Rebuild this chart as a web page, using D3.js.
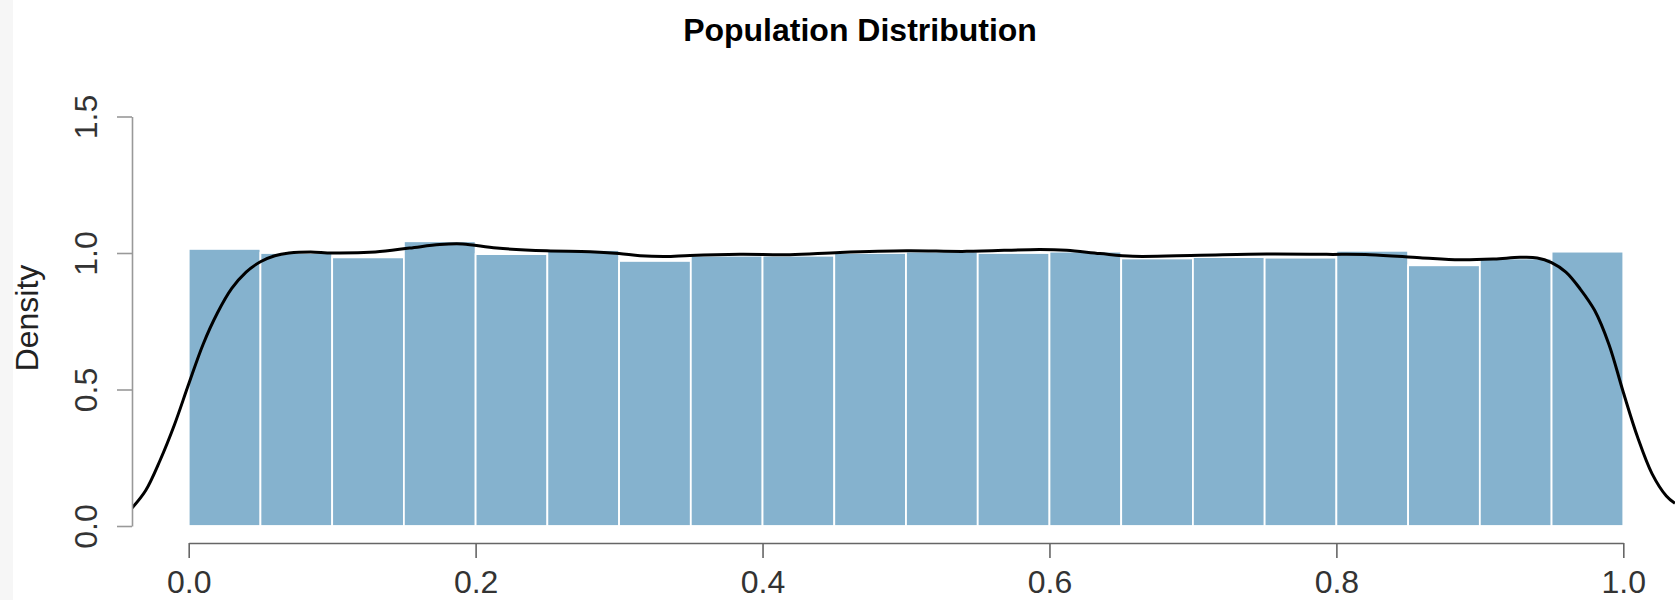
<!DOCTYPE html>
<html>
<head>
<meta charset="utf-8">
<script src="https://cdn.jsdelivr.net/npm/d3@7"></script>
<style>
  html, body { margin: 0; padding: 0; background: #ffffff; }
  svg { display: block; font-family: "Liberation Sans", Arial, sans-serif; }
</style>
</head>
<body>
<svg id="chart" width="1675" height="600"></svg>
<script>
// ---- Data ----
const binStarts = [0.00, 0.05, 0.10, 0.15, 0.20, 0.25, 0.30, 0.35, 0.40, 0.45,
                   0.50, 0.55, 0.60, 0.65, 0.70, 0.75, 0.80, 0.85, 0.90, 0.95];
const binWidth = 0.05;
const binDensity = [1.015, 1.000, 0.984, 1.043, 0.996, 1.011, 0.971, 0.990, 0.990, 1.000,
                    1.005, 1.000, 1.005, 0.980, 0.985, 0.983, 1.008, 0.955, 0.980, 1.005];

const curveX = [-0.0395, -0.030, -0.020, -0.010, 0.000, 0.010, 0.020, 0.030, 0.040, 0.050,
                0.060, 0.070, 0.085, 0.1000, 0.1300, 0.154, 0.175, 0.191, 0.2147, 0.2495,
                0.2797, 0.3000, 0.3146, 0.332, 0.3494, 0.3843, 0.4191, 0.454, 0.5005, 0.5423,
                0.5934, 0.612, 0.6352, 0.6582, 0.705, 0.7514, 0.7932, 0.8234, 0.8583, 0.8861,
                0.910, 0.928, 0.940, 0.950, 0.960, 0.970, 0.980, 0.990, 1.000, 1.010,
                1.020, 1.030, 1.036];
const curveY = [0.066, 0.130, 0.240, 0.370, 0.520, 0.665, 0.780, 0.870, 0.930, 0.968,
                0.990, 1.000, 1.004, 1.000, 1.004, 1.018, 1.031, 1.033, 1.018, 1.008,
                1.005, 0.998, 0.990, 0.987, 0.991, 0.995, 0.994, 1.002, 1.008, 1.006,
                1.013, 1.010, 0.998, 0.988, 0.992, 0.996, 0.995, 0.994, 0.983, 0.975,
                0.978, 0.984, 0.982, 0.965, 0.930, 0.868, 0.790, 0.665, 0.490, 0.325,
                0.192, 0.110, 0.083];

const xTicks = [0.0, 0.2, 0.4, 0.6, 0.8, 1.0];
const yTicks = [0.0, 0.5, 1.0, 1.5];
const titleText = "Population Distribution";
const yLabelText = "Density";

// ---- Layout ----
const svg = d3.select("#chart");
const x = d3.scaleLinear().domain([0, 1]).range([188.7, 1623.3]);
const y = d3.scaleLinear().domain([0, 1.5]).range([526, 116.5]);
const plotLeft = 132;

// left light stripe
svg.append("rect").attr("x", 0).attr("y", 0).attr("width", 13).attr("height", 600)
   .attr("fill", "#f6f6f6");

// clip
svg.append("clipPath").attr("id", "plotclip")
   .append("rect").attr("x", plotLeft).attr("y", 60).attr("width", 1675 - plotLeft).attr("height", 480);

// bars
svg.append("g").selectAll("rect")
  .data(binStarts.map((s, i) => ({s, d: binDensity[i]})))
  .join("rect")
  .attr("x", d => x(d.s))
  .attr("width", d => x(d.s + binWidth) - x(d.s))
  .attr("y", d => y(d.d))
  .attr("height", d => y(0) - y(d.d))
  .attr("fill", "#85b2ce")
  .attr("stroke", "#ffffff")
  .attr("stroke-width", 1.8);

// density curve
const line = d3.line()
  .x(d => x(d[0]))
  .y(d => y(d[1]))
  .curve(d3.curveCatmullRom.alpha(0.5));
svg.append("path")
  .datum(curveX.map((v, i) => [v, curveY[i]]))
  .attr("clip-path", "url(#plotclip)")
  .attr("d", line)
  .attr("fill", "none")
  .attr("stroke", "#000000")
  .attr("stroke-width", 3)
  .attr("stroke-linejoin", "round");

// x axis
const xAxis = svg.append("g")
  .attr("transform", "translate(0,543)")
  .call(d3.axisBottom(x).tickValues(xTicks).tickSize(15).tickSizeOuter(0)
        .tickFormat(d3.format(".1f")));
xAxis.select(".domain").attr("stroke", "#666").attr("stroke-width", 1.6);
xAxis.selectAll(".tick line").attr("stroke", "#666").attr("stroke-width", 1.6);
xAxis.selectAll(".tick text")
  .attr("y", 50).attr("dy", 0)
  .attr("fill", "#333")
  .style("font-size", "32px")
  .style("font-family", "'Liberation Sans', Arial, sans-serif");

// y axis
const yAxis = svg.append("g")
  .attr("transform", `translate(${plotLeft},0)`)
  .call(d3.axisLeft(y).tickValues(yTicks).tickSize(15).tickSizeOuter(0)
        .tickFormat(d3.format(".1f")));
yAxis.select(".domain").attr("stroke", "#999").attr("stroke-width", 1.6);
yAxis.selectAll(".tick line").attr("stroke", "#999").attr("stroke-width", 1.6);
yAxis.selectAll(".tick text")
  .attr("x", 0).attr("y", 0).attr("dy", 0)
  .attr("transform", "translate(-35,0) rotate(-90)")
  .attr("text-anchor", "middle")
  .attr("fill", "#333")
  .style("font-size", "32px")
  .style("font-family", "'Liberation Sans', Arial, sans-serif");

// y label
svg.append("text")
  .attr("transform", "translate(38,318) rotate(-90)")
  .attr("text-anchor", "middle")
  .attr("fill", "#222")
  .style("font-size", "32px")
  .text(yLabelText);

// title
svg.append("text")
  .attr("x", 860).attr("y", 41)
  .attr("text-anchor", "middle")
  .attr("fill", "#000")
  .style("font-size", "32px")
  .style("font-weight", "bold")
  .text(titleText);
</script>
</body>
</html>
